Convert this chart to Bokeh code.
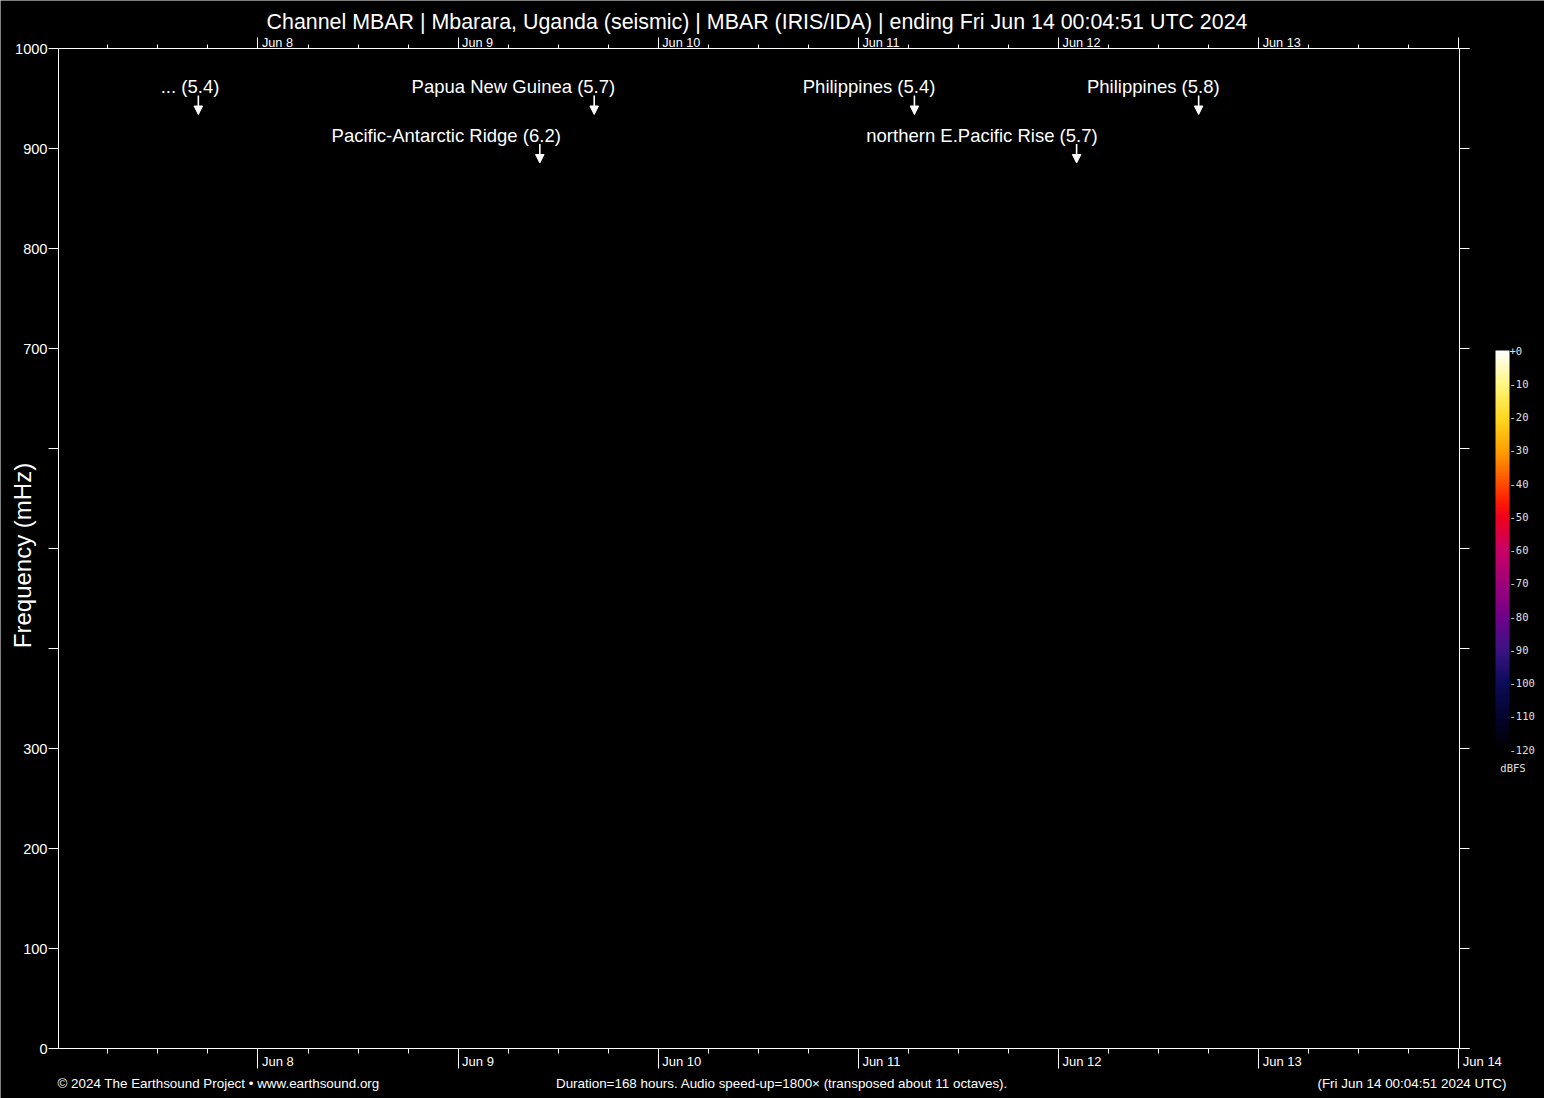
import numpy as np
import pandas as pd
from bokeh.plotting import figure
from bokeh.core.properties import value
from bokeh.models import (Range1d, LinearAxis, FixedTicker, ColumnDataSource, LabelSet, Label,
                          Arrow, NormalHead, ColorBar, LinearColorMapper, CustomJSTickFormatter,
                          AllLabels)
from bokeh.embed import file_html
from bokeh.resources import INLINE

# ---------------- data ----------------
chart_title = ("Channel MBAR | Mbarara, Uganda (seismic) | MBAR (IRIS/IDA) | "
               "ending Fri Jun 14 00:04:51 UTC 2024")
time_start = "2024-06-07 00:04:51"
time_end = "2024-06-14 00:04:51"

day_ticks = ["2024-06-08", "2024-06-09", "2024-06-10", "2024-06-11",
             "2024-06-12", "2024-06-13", "2024-06-14"]
day_labels = ["Jun  8", "Jun  9", "Jun 10", "Jun 11", "Jun 12", "Jun 13", "Jun 14"]
top_label_count = 6          # the top axis labels Jun 8 .. Jun 13
minor_tick_step = "6h"

freq_ticks = [0, 100, 200, 300, 400, 500, 600, 700, 800, 900, 1000]
freq_labels = ["0", "100", "200", "300", "", "", "", "700", "800", "900", "1000"]
y_title = "Frequency (mHz)"

event_names = ["...", "Papua New Guinea", "Pacific-Antarctic Ridge",
               "Philippines", "northern E.Pacific Rise", "Philippines"]
event_mags = [5.4, 5.7, 6.2, 5.4, 5.7, 5.8]
event_times = ["2024-06-07 16:51", "2024-06-09 16:19", "2024-06-09 09:48",
               "2024-06-11 06:43", "2024-06-12 02:10", "2024-06-12 16:48"]
event_rows = [0, 0, 1, 0, 1, 0]

dbfs_low, dbfs_high = -120, 0
dbfs_ticks = [0, -10, -20, -30, -40, -50, -60, -70, -80, -90, -100, -110, -120]
dbfs_labels = ["+0", "-10", "-20", "-30", "-40", "-50", "-60", "-70", "-80",
               "-90", "-100", "-110", "-120"]
cbar_title = "dBFS"
cbar_anchor_db = [-120, -110, -100, -90, -80, -70, -60, -50, -45, -40, -30, -20, -10, 0]
cbar_anchor_col = ["#000000", "#040430", "#0c0c5a", "#3c1484", "#70008a", "#a0007a",
                   "#c80064", "#f0001c", "#ff1e00", "#ff4c00", "#ffa000", "#ffd820",
                   "#fff680", "#ffffff"]

footer_left = "\u00a9 2024 The Earthsound Project \u2022 www.earthsound.org"
footer_mid = "Duration=168 hours. Audio speed-up=1800\u00d7 (transposed about 11 octaves)."
footer_right = "(Fri Jun 14 00:04:51 2024 UTC)"

# ---------------- layout helpers ----------------
def ms(s):
    return pd.Timestamp(s).value // 10**6

X0, X1 = ms(time_start), ms(time_end)
CW, CH = 1544, 1098                 # canvas
PL, PT, PW, PH = 58, 48, 1401, 1000  # plot box inside the canvas (pixels)
XS = (X1 - X0) / PW                 # ms per pixel
FONT = "Liberation Sans"
FG = "white"
CB_FG = "#e0e0e0"

def sx(px):   # canvas pixel -> data x
    return X0 + (px - PL) * XS

def sy(py):   # canvas pixel -> data y (1 mHz per pixel)
    return (PT + PH) - py

day_ms = [ms(d) for d in day_ticks]
minor_ms = [int(t.value // 10**6) for t in
            pd.date_range("2024-06-07 06:00", "2024-06-13 18:00", freq=minor_tick_step)
            if t.hour != 0]

# ---------------- figure ----------------
p = figure(width=CW, height=CH, x_range=Range1d(sx(0), sx(CW)),
           y_range=Range1d(sy(CH), sy(0)),
           x_axis_type=None, y_axis_type=None, output_backend="svg",
           toolbar_location=None, min_border=0,
           background_fill_color="black", border_fill_color="black",
           outline_line_color=None)

blank = CustomJSTickFormatter(code="return ''")

def style_axis(ax):
    ax.axis_line_color = FG
    ax.axis_line_width = 1
    ax.major_tick_line_color = FG
    ax.minor_tick_line_color = FG
    ax.major_tick_in = 0
    ax.minor_tick_in = 0

# bottom axis (line runs slightly past the right edge as in the original)
xb = LinearAxis(fixed_location=0, bounds=(X0, sx(1469)),
                ticker=FixedTicker(ticks=day_ms, minor_ticks=minor_ms), formatter=blank)
style_axis(xb)
xb.major_tick_out = 20
xb.minor_tick_out = 5
p.add_layout(xb, "below")

# top axis
xt = LinearAxis(fixed_location=1000, bounds=(X0, sx(1469)),
                ticker=FixedTicker(ticks=day_ms, minor_ticks=minor_ms), formatter=blank)
style_axis(xt)
xt.major_tick_out = 11
xt.minor_tick_out = 4
p.add_layout(xt, "above")

# left axis
yl = LinearAxis(fixed_location=X0, bounds=(0, 1000), ticker=FixedTicker(ticks=freq_ticks),
                major_label_overrides={t: l for t, l in zip(freq_ticks, freq_labels)})
style_axis(yl)
yl.major_tick_out = 10
yl.minor_tick_line_color = None
yl.major_label_standoff = 1
yl.major_label_text_color = FG
yl.major_label_text_font = FONT
yl.major_label_text_font_size = "14.6px"
p.add_layout(yl, "left")

# right axis
yr = LinearAxis(fixed_location=X1, bounds=(0, 1000), ticker=FixedTicker(ticks=freq_ticks),
                formatter=blank)
style_axis(yr)
yr.major_tick_out = 10
yr.minor_tick_line_color = None
p.add_layout(yr, "right")

# day labels (placed to the right of the day ticks)
bot_src = ColumnDataSource(dict(x=day_ms, text=day_labels))
p.add_layout(LabelSet(x="x", y=sy(1065), text="text", source=bot_src, x_offset=4,
                      text_align="left", text_baseline="alphabetic",
                      text_font=value(FONT), text_font_size="13px", text_color=FG))
top_src = ColumnDataSource(dict(x=day_ms[:top_label_count], text=day_labels[:top_label_count]))
p.add_layout(LabelSet(x="x", y=sy(46), text="text", source=top_src, x_offset=4,
                      text_align="left", text_baseline="alphabetic",
                      text_font=value(FONT), text_font_size="12.7px", text_color=FG))

# events
ROW_STEP = 49.0
TEXT_BASE = 955.5
ARROW_TOP = 953.0
ARROW_TIP = 934.0
ARROW_STEP = 48.5
ev_x = [ms(t) for t in event_times]
ev_text = [f"{n} ({m})" for n, m in zip(event_names, event_mags)]
ev_src = ColumnDataSource(dict(
    x=ev_x, text=ev_text,
    ty=[TEXT_BASE - r * ROW_STEP for r in event_rows],
    y0=[ARROW_TOP - r * ARROW_STEP for r in event_rows],
    y1=[ARROW_TIP - r * ARROW_STEP for r in event_rows]))
p.add_layout(LabelSet(x="x", y="ty", text="text", source=ev_src, x_offset=21,
                      text_align="right", text_baseline="alphabetic",
                      text_font=value(FONT), text_font_size="18.5px", text_color=FG))
p.add_layout(Arrow(end=NormalHead(size=8.5, fill_color=FG, line_color=FG, line_width=1),
                   x_start="x", y_start="y0", x_end="x", y_end="y1", source=ev_src,
                   line_color=FG, line_width=1.6))

# titles and footers (positions are the visual centres of the texts)
p.add_layout(Label(x=sx(756.5), y=sy(21), text=chart_title, text_align="center",
                   text_baseline="middle", text_font=FONT, text_font_size="21.4px",
                   text_color=FG))
p.add_layout(Label(x=sx(21.5), y=sy(555), text=y_title, angle=np.pi / 2,
                   text_align="center", text_baseline="middle", text_font=FONT,
                   text_font_size="24px", text_color=FG))
for txt, px, align in [(footer_left, 57, "left"), (footer_mid, 781.5, "center"),
                       (footer_right, 1506, "right")]:
    p.add_layout(Label(x=sx(px), y=sy(1083), text=txt, text_align=align,
                       text_baseline="middle", text_font=FONT,
                       text_font_size="13.4px", text_color=FG))

# colour bar
cols = np.array([[int(c[i:i + 2], 16) for i in (1, 3, 5)] for c in cbar_anchor_col], float)
lv = np.linspace(dbfs_low, dbfs_high, 256)
palette = ["#%02x%02x%02x" % tuple(int(round(np.interp(v, cbar_anchor_db, cols[:, k])))
                                   for k in range(3)) for v in lv]
mapper = LinearColorMapper(palette=palette, low=dbfs_low, high=dbfs_high)
cb = ColorBar(color_mapper=mapper, ticker=FixedTicker(ticks=dbfs_ticks),
              major_label_overrides={t: l for t, l in zip(dbfs_ticks, dbfs_labels)},
              major_label_policy=AllLabels(),
              orientation="vertical", width=14, height=399,
              location=(1495, CH - 749),
              padding=0, margin=0, label_standoff=0, major_tick_out=0, major_tick_in=0,
              major_tick_line_color=None,
              minor_tick_line_color=None, bar_line_color=None, border_line_color=None,
              background_fill_color=None, major_label_text_color=CB_FG,
              major_label_text_font="DejaVu Sans Mono", major_label_text_font_size="10.5px")
p.add_layout(cb, "center")
p.add_layout(Label(x=sx(1512.5), y=sy(767), text=cbar_title, text_align="center",
                   text_baseline="middle", text_font="DejaVu Sans Mono",
                   text_font_size="10.5px", text_color=CB_FG))

open("out.html", "w").write(file_html(p, INLINE))
